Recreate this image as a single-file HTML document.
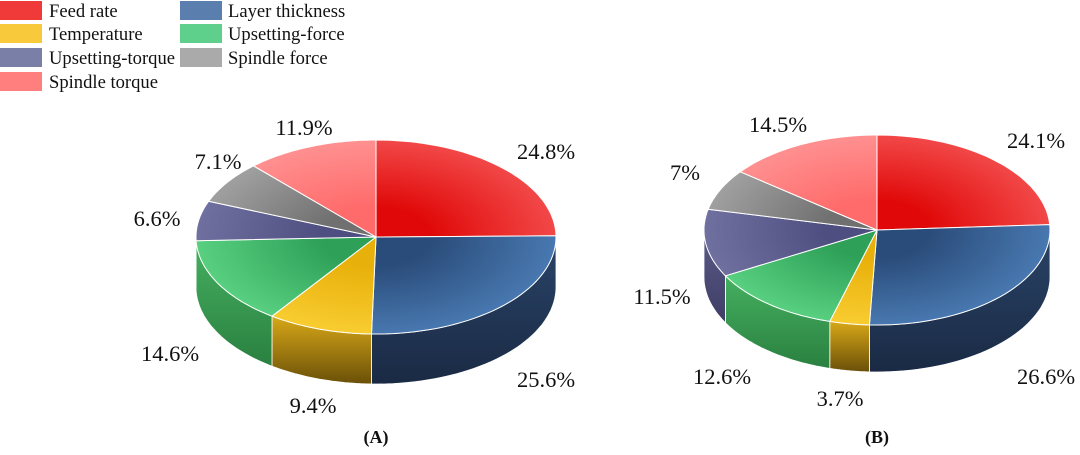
<!DOCTYPE html>
<html><head><meta charset="utf-8"><style>
body{margin:0;background:#fff;width:1080px;height:450px;overflow:hidden}
svg text{font-family:"Liberation Serif",serif}
</style></head><body>
<svg id="s" width="1080" height="450" xmlns="http://www.w3.org/2000/svg">
<g font-size="18.6" fill="#111">
<rect x="0" y="1" width="42" height="19" fill="#f03a3a"/><text x="49" y="17">Feed rate</text>
<rect x="0" y="24" width="42" height="19" fill="#f9c93c"/><text x="49" y="40">Temperature</text>
<rect x="0" y="48" width="42" height="19" fill="#7a7fa8"/><text x="49" y="64">Upsetting-torque</text>
<rect x="0" y="72" width="42" height="19" fill="#ff7f7f"/><text x="49" y="88">Spindle torque</text>
<rect x="180" y="1" width="42" height="19" fill="#5a7fae"/><text x="228" y="17">Layer thickness</text>
<rect x="180" y="24" width="42" height="19" fill="#5fcf8c"/><text x="228" y="40">Upsetting-force</text>
<rect x="180" y="48" width="42" height="19" fill="#aaaaaa"/><text x="228" y="64">Spindle force</text>
</g>
<g font-size="22.5" fill="#111" text-anchor="middle">
<text x="546" y="159">24.8%</text><text x="546" y="387">25.6%</text><text x="313" y="413">9.4%</text>
<text x="170" y="361">14.6%</text><text x="157" y="226">6.6%</text><text x="218" y="169">7.1%</text><text x="304" y="135">11.9%</text>
<text x="1036" y="148">24.1%</text><text x="1046" y="384">26.6%</text><text x="840" y="406">3.7%</text>
<text x="722" y="384">12.6%</text><text x="662" y="304">11.5%</text><text x="685" y="180">7%</text><text x="778" y="132">14.5%</text>
</g>
<g font-size="18" font-weight="bold" fill="#111" text-anchor="middle">
<text x="376" y="443">(A)</text><text x="877" y="443">(B)</text>
</g>
<g id="pies"></g>
</svg>
<script>
var NS="http://www.w3.org/2000/svg",g=document.getElementById('pies');
var cols=[
 {top:['#e00808','#f24848'],side:['#a01010','#600808']},
 {top:['#2a4c7a','#4878b0'],side:['#2a4468','#1a2a44']},
 {top:['#e8b00a','#f8cc30'],side:['#d8a818','#6a5008']},
 {top:['#2ea058','#58d080'],side:['#45b060','#2a8040']},
 {top:['#4e4e80','#7070a0'],side:['#5a5a88','#3e3e66']},
 {top:['#707070','#a0a0a0'],side:['#888','#555']},
 {top:['#ff6a6a','#ff9090'],side:['#e06060','#a04040']}];
var defs=document.createElementNS(NS,'defs');document.getElementById('s').appendChild(defs);
function pie(id,cx,cy,rx,ry,d,vals){
 var P=(t,dy)=>[cx+rx*Math.sin(t),cy-ry*Math.cos(t)+(dy||0)];
 var cum=0,segs=[];
 vals.forEach((v,i)=>{var a=cum/100*2*Math.PI;cum+=v;var b=cum/100*2*Math.PI;segs.push([a,b,i]);});
 segs.forEach(s=>{var i=s[2];
  var rg=document.createElementNS(NS,'radialGradient');rg.setAttribute('id',id+'t'+i);
  rg.setAttribute('gradientUnits','userSpaceOnUse');rg.setAttribute('cx',cx);rg.setAttribute('cy',cy);rg.setAttribute('r',rx);
  rg.setAttribute('gradientTransform','translate('+cx+' '+cy+') scale(1 '+(ry/rx)+') translate('+(-cx)+' '+(-cy)+')');
  rg.innerHTML='<stop offset="0.3" stop-color="'+cols[i].top[0]+'"/><stop offset="1" stop-color="'+cols[i].top[1]+'"/>';
  defs.appendChild(rg);
  var lg=document.createElementNS(NS,'linearGradient');lg.setAttribute('id',id+'s'+i);
  lg.setAttribute('x1','0');lg.setAttribute('y1','0');lg.setAttribute('x2','0');lg.setAttribute('y2','1');
  lg.innerHTML='<stop offset="0" stop-color="'+cols[i].side[0]+'"/><stop offset="1" stop-color="'+cols[i].side[1]+'"/>';
  defs.appendChild(lg);});
 function arc(a,b,dy,rev){var s='',n=40;for(var k=0;k<=n;k++){var t=rev?b-(b-a)*k/n:a+(b-a)*k/n;var p=P(t,dy);s+=(k==0?'':'L')+p[0].toFixed(1)+' '+p[1].toFixed(1)+' ';}return s;}
 segs.forEach(s=>{var a=Math.max(s[0],Math.PI/2),b=Math.min(s[1],1.5*Math.PI);if(b<=a)return;
  var path=document.createElementNS(NS,'path');
  path.setAttribute('d','M'+arc(a,b,0)+'L'+arc(a,b,d,true)+'Z');
  path.setAttribute('fill','url(#'+id+'s'+s[2]+')');path.setAttribute('stroke','#fff');path.setAttribute('stroke-width','0.8');g.appendChild(path);});
 segs.forEach(s=>{var path=document.createElementNS(NS,'path');
  path.setAttribute('d','M'+cx+' '+cy+' L'+arc(s[0],s[1],0)+'Z');
  path.setAttribute('fill','url(#'+id+'t'+s[2]+')');path.setAttribute('stroke','#fff');path.setAttribute('stroke-width','1');g.appendChild(path);});
}
pie('A',376,237,180,97,50,[24.8,25.6,9.4,14.6,6.6,7.1,11.9]);
pie('B',877,230,173,95,47,[24.1,26.6,3.7,12.6,11.5,7,14.5]);
</script>
</body></html>
